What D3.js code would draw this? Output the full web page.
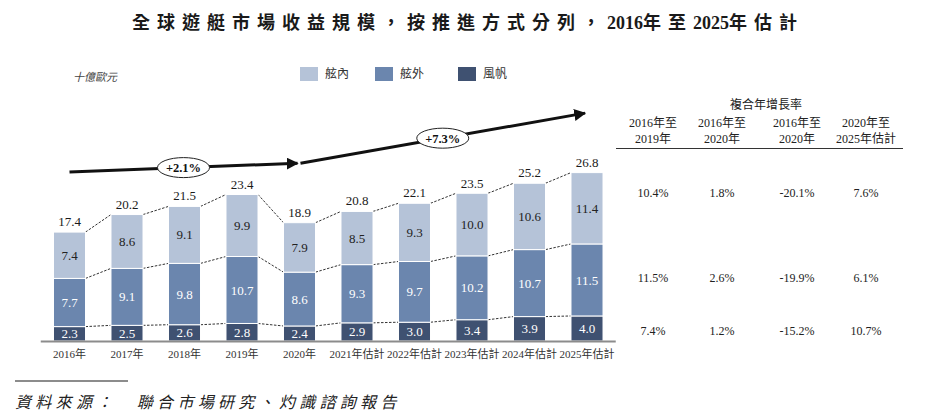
<!DOCTYPE html>
<html>
<head>
<meta charset="utf-8">
<script src="https://cdn.jsdelivr.net/npm/d3@7"></script>
<style>
  body { margin: 0; background: #fff; }
  svg { display: block; }
  text { font-family: "Liberation Serif", "Noto Sans CJK TC", serif; }
</style>
</head>
<body>
<div id="wrapper"></div>
<script>
// Data
const years = ["2016年", "2017年", "2018年", "2019年", "2020年",
  "2021年估計", "2022年估計", "2023年估計", "2024年估計", "2025年估計"]
const sail = [2.3, 2.5, 2.6, 2.8, 2.4, 2.9, 3.0, 3.4, 3.9, 4.0]
const outboard = [7.7, 9.1, 9.8, 10.7, 8.6, 9.3, 9.7, 10.2, 10.7, 11.5]
const inboard = [7.4, 8.6, 9.1, 9.9, 7.9, 8.5, 9.3, 10.0, 10.6, 11.4]
const totals = [17.4, 20.2, 21.5, 23.4, 18.9, 20.8, 22.1, 23.5, 25.2, 26.8]
const seriesNames = ["風帆", "舷外", "舷內"]

const cagrTitle = "複合年增長率"
const cagrHeaders = [["2016年至", "2019年"], ["2016年至", "2020年"], ["2016年至", "2020年"], ["2020年至", "2025年估計"]]
const cagrInboard = ["10.4%", "1.8%", "-20.1%", "7.6%"]
const cagrOutboard = ["11.5%", "2.6%", "-19.9%", "6.1%"]
const cagrSail = ["7.4%", "1.2%", "-15.2%", "10.7%"]

const growthArrows = [
  { from: "2016年", to: "2020年", label: "+2.1%" },
  { from: "2020年", to: "2025年估計", label: "+7.3%" },
]

const title = "全球遊艇市場收益規模，按推進方式分列，2016年至2025年估計"
const unitLabel = "十億歐元"
const sourceText = "資料來源：　聯合市場研究、灼識諮詢報告"

function draw() {
  const width = 939
  const height = 419
  const colors = { "風帆": "#3f5171", "舷外": "#6b86ae", "舷內": "#b5c3d8" }

  const svg = d3.select("#wrapper").append("svg")
    .attr("width", width)
    .attr("height", height)

  // title: CJK characters spaced out, digits kept tight
  const titleText = svg.append("text")
    .attr("x", 468).attr("y", 29)
    .attr("text-anchor", "middle")
    .style("font-size", "18px")
    .style("font-weight", "bold")
    .attr("fill", "#1a1a1a")
  const parts = title.match(/\d+|[^\d]+/g)
  parts.forEach(p => {
    const isDigit = /^\d+$/.test(p)
    titleText.append("tspan")
      .style("letter-spacing", isDigit ? "0px" : "7px")
      .text(p)
  })

  // scales
  const xScale = d3.scaleBand()
    .domain(years)
    .range([40.75, 615.75])
    .paddingInner(0.443)
    .paddingOuter(0.2215)

  const yScale = d3.scaleLinear()
    .domain([0, 40])
    .range([341, 90.6])

  const cx = d => xScale(d) + xScale.bandwidth() / 2

  // stacked data
  const rows = years.map((y, i) => ({ year: y, "風帆": sail[i], "舷外": outboard[i], "舷內": inboard[i] }))
  const stacked = d3.stack().keys(seriesNames)(rows)

  // dashed connectors between bars
  const bw = xScale.bandwidth()
  stacked.forEach(layer => {
    for (let i = 0; i < years.length - 1; i++) {
      svg.append("line")
        .attr("x1", xScale(years[i]) + bw)
        .attr("x2", xScale(years[i + 1]))
        .attr("y1", yScale(layer[i][1]))
        .attr("y2", yScale(layer[i + 1][1]))
        .attr("stroke", "#333")
        .attr("stroke-width", 1)
        .attr("stroke-dasharray", "2.5,1.5")
    }
  })

  // bars
  const groups = svg.selectAll("g.layer")
    .data(stacked)
    .join("g")
    .attr("class", "layer")
    .attr("fill", d => colors[d.key])

  groups.selectAll("rect")
    .data(d => d)
    .join("rect")
    .attr("x", d => xScale(d.data.year))
    .attr("width", bw)
    .attr("y", d => yScale(d[1]))
    .attr("height", d => yScale(d[0]) - yScale(d[1]))
    .attr("stroke", "#fff")
    .attr("stroke-width", 1)

  // segment labels
  stacked.forEach(layer => {
    svg.selectAll(null)
      .data(layer)
      .join("text")
      .attr("x", d => cx(d.data.year))
      .attr("y", d => (yScale(d[0]) + yScale(d[1])) / 2)
      .attr("dy", "0.35em")
      .attr("text-anchor", "middle")
      .style("font-size", "13px")
      .attr("fill", layer.key === "舷內" ? "#222" : "#fff")
      .text(d => (d[1] - d[0]).toFixed(1))
  })

  // totals
  svg.selectAll(null)
    .data(totals)
    .join("text")
    .attr("x", (d, i) => cx(years[i]))
    .attr("y", d => yScale(d) - 6)
    .attr("text-anchor", "middle")
    .style("font-size", "13px")
    .attr("fill", "#1a1a1a")
    .text(d => d.toFixed(1))

  // baseline
  svg.append("line")
    .attr("x1", 40.75).attr("x2", 615.75)
    .attr("y1", yScale(0) + 0.5).attr("y2", yScale(0) + 0.5)
    .attr("stroke", "#8c8c8c")
    .attr("stroke-width", 2)

  // x axis labels
  const xAxis = svg.append("g")
    .attr("transform", `translate(0, ${yScale(0) + 1})`)
    .call(d3.axisBottom(xScale).tickSize(0).tickPadding(8))
  xAxis.select(".domain").remove()
  xAxis.selectAll("text")
    .style("font-size", "11px")
    .style("font-family", "'Liberation Serif', 'Noto Sans CJK TC', serif")
    .attr("fill", "#333")

  // growth arrows
  svg.append("defs").append("marker")
    .attr("id", "arrowhead")
    .attr("viewBox", "0 0 10 10")
    .attr("refX", 9).attr("refY", 5)
    .attr("markerWidth", 4).attr("markerHeight", 4)
    .attr("orient", "auto")
    .append("path")
    .attr("d", "M0,0 L10,5 L0,10 z")
    .attr("fill", "#111")

  const arrowLevels = [[27.0, 28.4], [28.4, 36.4]]
  growthArrows.forEach((a, i) => {
    const x1 = cx(a.from) + (i === 0 ? 0 : 1)
    const x2 = cx(a.to) - 2
    const y1 = yScale(arrowLevels[i][0])
    const y2 = yScale(arrowLevels[i][1])
    svg.append("line")
      .attr("x1", x1).attr("y1", y1)
      .attr("x2", x2).attr("y2", y2)
      .attr("stroke", "#111")
      .attr("stroke-width", 3)
      .attr("marker-end", "url(#arrowhead)")
    const mx = (x1 + x2) / 2
    const my = (y1 + y2) / 2
    svg.append("ellipse")
      .attr("cx", mx).attr("cy", my)
      .attr("rx", 26).attr("ry", 10)
      .attr("fill", "#fff")
      .attr("stroke", "#222")
      .attr("stroke-width", 1)
    svg.append("text")
      .attr("x", mx).attr("y", my)
      .attr("dy", "0.35em")
      .attr("text-anchor", "middle")
      .style("font-size", "12.5px")
      .style("font-weight", "bold")
      .attr("fill", "#111")
      .text(a.label)
  })

  // unit label
  svg.append("text")
    .attr("x", 73).attr("y", 81)
    .style("font-size", "11px")
    .style("font-style", "italic")
    .attr("fill", "#444")
    .text(unitLabel)

  // legend
  const legendItems = ["舷內", "舷外", "風帆"]
  const legendX = [300, 375, 458]
  legendItems.forEach((name, i) => {
    svg.append("rect")
      .attr("x", legendX[i]).attr("y", 67)
      .attr("width", 18).attr("height", 14)
      .attr("fill", colors[name])
    svg.append("text")
      .attr("x", legendX[i] + 25).attr("y", 74)
      .attr("dy", "0.35em")
      .style("font-size", "12px")
      .attr("fill", "#333")
      .text(name)
  })

  // CAGR table
  const colX = [653, 722, 797, 866]
  svg.append("text")
    .attr("x", 766).attr("y", 109)
    .attr("text-anchor", "middle")
    .style("font-size", "12px")
    .attr("fill", "#222")
    .text(cagrTitle)

  cagrHeaders.forEach((h, i) => {
    h.forEach((line, j) => {
      svg.append("text")
        .attr("x", colX[i]).attr("y", 127 + j * 16)
        .attr("text-anchor", "middle")
        .style("font-size", "12px")
        .attr("fill", "#222")
        .text(line)
    })
  })

  svg.append("line")
    .attr("x1", 616).attr("x2", 903)
    .attr("y1", 148.5).attr("y2", 148.5)
    .attr("stroke", "#333")
    .attr("stroke-width", 1.2)

  const tableRows = [cagrInboard, cagrOutboard, cagrSail]
  const rowY = [193, 278, 331]
  tableRows.forEach((row, r) => {
    svg.selectAll(null)
      .data(row)
      .join("text")
      .attr("x", (d, i) => colX[i])
      .attr("y", rowY[r])
      .attr("dy", "0.35em")
      .attr("text-anchor", "middle")
      .style("font-size", "12px")
      .attr("fill", "#222")
      .text(d => d)
  })

  // source
  svg.append("line")
    .attr("x1", 15).attr("x2", 128)
    .attr("y1", 381).attr("y2", 381)
    .attr("stroke", "#666")
    .attr("stroke-width", 1.5)

  svg.append("text")
    .attr("x", 15).attr("y", 408)
    .style("font-size", "16px")
    .style("font-style", "italic")
    .style("letter-spacing", "4.3px")
    .attr("fill", "#222")
    .text(sourceText)
}

draw()
</script>
</body>
</html>
